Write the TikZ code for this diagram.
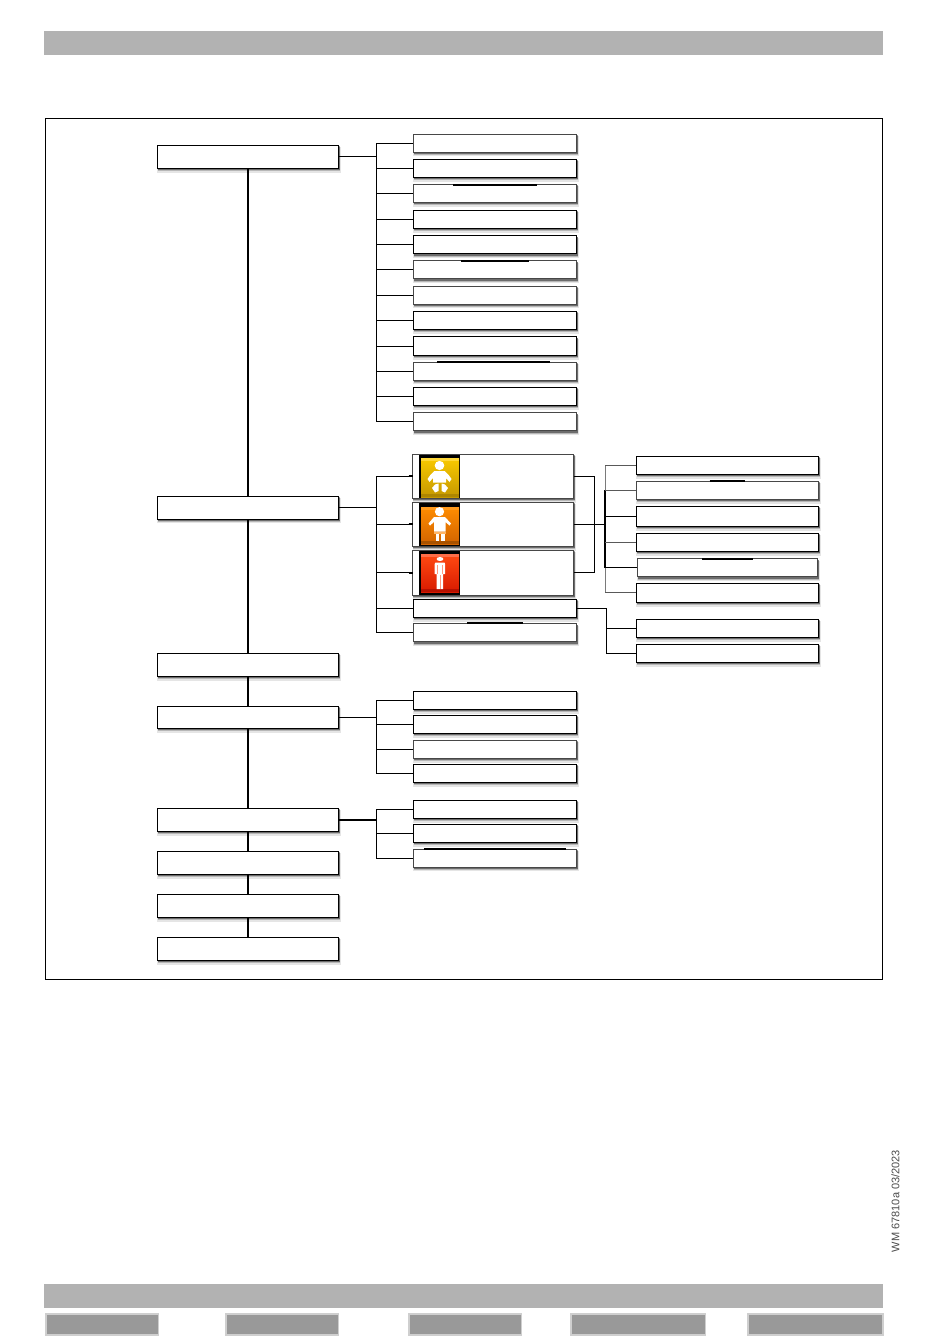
\documentclass[tikz,border=0pt]{standalone}
\usepackage{fontspec}
\setmainfont{Liberation Sans}
\definecolor{barg}{HTML}{B2B2B2}
\definecolor{btng}{HTML}{999999}
\definecolor{btne}{HTML}{CFCFCF}
\definecolor{yelT}{HTML}{F9C900}
\definecolor{yelB}{HTML}{C59800}
\definecolor{yelL}{HTML}{FFD83A}
\definecolor{yelD}{HTML}{AE8600}
\definecolor{orgT}{HTML}{FF8C00}
\definecolor{orgB}{HTML}{D26400}
\definecolor{orgL}{HTML}{FF9A1E}
\definecolor{orgD}{HTML}{A85200}
\definecolor{redT}{HTML}{FF4A12}
\definecolor{redB}{HTML}{D81A00}
\definecolor{redL}{HTML}{FF6E48}
\definecolor{redD}{HTML}{B51000}
\definecolor{orgS}{HTML}{FFB566}
\definecolor{redS}{HTML}{FF9A80}
\tikzset{
  box/.style={draw=black,line width=1pt,fill=white,inner sep=0pt,outer sep=0pt,anchor=north west},
  softbox/.style={box,draw=black!72},
  conn/.style={draw=black,line width=0.9pt},
  connsoft/.style={draw=black!52,line width=1pt},
  spine/.style={draw=black,line width=1.7pt},
  heavy/.style={draw=black,line width=1.8pt},
  topmark/.style={draw=black,line width=2pt},
  bar/.style={fill=barg},
  btn/.style={fill=btng,draw=btne,line width=1.6pt},
  figw/.style={fill=white,draw=none},
}
\newcommand{\bx}[6][box]{%
  \fill[black,opacity=.10] ({#3},{#4+2}) rectangle ({#5+2.4},{#6+4.2});
  \fill[black,opacity=.20] ({#3+.3},{#4+1.5}) rectangle ({#5+1.7},{#6+3});
  \fill[black,opacity=.40] ({#3+.5},{#4+1}) rectangle ({#5+1.2},{#6+1.8});
  \pgfmathsetmacro{\bw}{#5-#3}\pgfmathsetmacro{\bh}{#6-#4}
  \node[#1,minimum width=\bw pt,minimum height=\bh pt] (#2) at (#3,#4) {};
}
\newcommand{\icon}[8]{% y0 y1 yi0 yi1 top bottom lightband darkband
  \fill[black] (419,#1) rectangle (460,#2);
  \shade[top color=#5,bottom color=#6] (421,#3) rectangle (459,#4);
  \fill[#7] (421,#3) rectangle (459,{#3+3});
  \fill[#8] (421,{#4-3.5}) rectangle (459,#4);
}
\begin{document}
\begin{tikzpicture}[x=1pt,y=-1pt]
\useasboundingbox (0,0) rectangle (950,1344);
\fill[white] (0,0) rectangle (950,1344);
% bars
\fill[bar] (44,31) rectangle (883,55);
\fill[bar] (44,1284) rectangle (883,1308.3);
\draw[btn] (46,1313.7) rectangle (158.5,1335);
\draw[btn] (226,1313.7) rectangle (338.5,1335);
\draw[btn] (409,1313.7) rectangle (521.5,1335);
\draw[btn] (571,1313.7) rectangle (705.5,1335);
\draw[btn] (748,1313.7) rectangle (883,1335);
\draw[black,line width=.8pt] (45.5,118.5) rectangle (882.5,979.5);
\node[rotate=90,text=black!70,font=\fontsize{11}{13}\selectfont,inner sep=0pt] (code) at (895.5,1201) {WM 67810a 03/2023};
% left column
\bx{L1}{157.3}{145.3}{338.3}{168.3}
\bx{L2}{157.3}{496.3}{338.3}{519}
\bx{L3}{157.3}{653.3}{338.3}{676.3}
\bx{L4}{157.3}{706.3}{338.3}{728.3}
\bx{L5}{157.3}{808.3}{338.3}{831.3}
\bx{L6}{157.3}{851.3}{338.3}{874.3}
\bx{L7}{157.3}{894.3}{338.3}{917.3}
\bx{L8}{157.3}{937.3}{338.3}{960.3}
% middle column, group 1
\bx[softbox]{A1}{413.3}{134}{576.5}{152}
\bx{A2}{413.3}{159.3}{576.5}{177.3}
\bx[softbox]{A3}{413.3}{184.3}{576.5}{202.3}
\bx{A4}{413.3}{210.3}{576.5}{228.3}
\bx{A5}{413.3}{235.7}{576.5}{253.7}
\bx[softbox]{A6}{413.3}{260.7}{576.5}{278.7}
\bx[softbox]{A7}{413.3}{286}{576.5}{304}
\bx{A8}{413.3}{311.3}{576.5}{329.3}
\bx{A9}{413.3}{336.7}{576.5}{355.3}
\bx[softbox]{A10}{413.3}{362}{576.5}{380}
\bx{A11}{413.3}{387.3}{576.5}{405.3}
\bx[softbox]{A12}{413.3}{412.7}{576.5}{430.7}
% group 2
\bx[softbox]{B1}{412.7}{454.3}{573.7}{498.3}
\bx[softbox]{B2}{412.7}{502.3}{573.7}{546.3}
\bx[softbox]{B3}{412.7}{550.3}{573.7}{595}
\bx{B4}{413.3}{599}{576.5}{617.3}
\bx[softbox]{B5}{413.3}{623.7}{576.5}{641.7}
% group 3
\bx{C1}{413.3}{691.3}{576.5}{709.3}
\bx{C2}{413.3}{715.3}{576.5}{733.3}
\bx[softbox]{C3}{413.3}{740}{576.5}{758.3}
\bx{C4}{413.3}{764.3}{576.5}{782.3}
% group 4
\bx{D1}{413.3}{800.3}{576.5}{818.3}
\bx{D2}{413.3}{824.3}{576.5}{842.3}
\bx[softbox]{D3}{413.3}{849}{576.5}{867}
% right column
\bx{R1}{636.3}{456.3}{818.3}{474.3}
\bx[softbox]{R2}{636.3}{481.3}{818.3}{499.3}
\bx{R3}{636.3}{506.3}{818.3}{526.3}
\bx{R4}{636.3}{533.3}{818.3}{551.3}
\bx[softbox]{R5}{637.3}{558.7}{817.7}{576.7}
\bx{R6}{636.3}{583.3}{818.3}{602.3}
\bx{R7}{636.3}{619.3}{818.3}{637.3}
\bx{R8}{636.3}{644.3}{818.3}{662.3}
% top-edge marks
\draw[topmark] (453,184.6) -- (537,184.6);
\draw[topmark] (461,260.6) -- (529,260.6);
\draw[topmark] (437,361.6) -- (550,361.6);
\draw[topmark] (467,623.4) -- (523,623.4);
\draw[topmark] (709.5,480.6) -- (745,480.6);
\draw[topmark] (702,558.6) -- (753,558.6);
\draw[topmark] (424,848.6) -- (566,848.6);
% spine
\draw[spine] (L1.south) -- (L2.north);
\draw[spine] (L2.south) -- (L3.north);
\draw[spine] (L3.south) -- (L4.north);
\draw[spine] (L4.south) -- (L5.north);
\draw[spine] (L5.south) -- (L6.north);
\draw[spine] (L6.south) -- (L7.north);
\draw[spine] (L7.south) -- (L8.north);
% trunks
\coordinate (ta) at (376.4,157);
\coordinate (tb) at (376.4,507);
\coordinate (tc) at (376.4,717);
\coordinate (td) at (376.4,820);
\coordinate (tr) at (605,524);
\coordinate (ts) at (606.4,608);
\coordinate (br) at (594.5,524);
\draw[conn] (L1.east) -- (L1.east -| ta);
\draw[conn] (ta |- A1.west) -- (ta |- A12.west);
\foreach \n in {A1,A2,A3,A4,A5,A6,A7,A8,A9,A10,A11,A12}{\draw[conn] (ta |- \n.west) -- (\n.west);}
\draw[conn] (L2.east) -- (L2.east -| tb);
\draw[conn] (tb |- B1.west) -- (tb |- B5.west);
\foreach \n in {B1,B2,B3,B4,B5}{\draw[conn] (tb |- \n.west) -- (\n.west);}
\foreach \n in {B1,B2,B3}{\draw[heavy] ([xshift=-4pt]\n.west) -- (\n.west);}
\draw[conn] (L4.east) -- (L4.east -| tc);
\draw[conn] (tc |- C1.west) -- (tc |- C4.west);
\foreach \n in {C1,C2,C3,C4}{\draw[conn] (tc |- \n.west) -- (\n.west);}
\draw[heavy] (L5.east) -- (L5.east -| td);
\draw[conn] (td |- D1.west) -- (td |- D3.west);
\foreach \n in {D1,D2,D3}{\draw[conn] (td |- \n.west) -- (\n.west);}
% bracket
\draw[conn] (B1.east) -- (br |- B1.east) -- (br |- B3.east) -- (B3.east);
\draw[conn,line width=1.2pt] (B2.east) -- (tr |- B2.east);
\draw[connsoft] (tr |- R1.west) -- (tr |- R2.west);
\draw[connsoft] (tr |- R5.west) -- (tr |- R6.west);
\draw[conn,line width=1.1pt] (tr |- R2.west) -- (tr |- R5.west);
\foreach \n in {R1,R2,R4,R6}{\draw[connsoft,draw=black!65] (tr |- \n.west) -- (\n.west);}
\foreach \n in {R3,R5}{\draw[conn] (tr |- \n.west) -- (\n.west);}
\draw[conn] (B4.east) -- (ts |- B4.east) -- (ts |- R8.west) -- (R8.west);
\draw[conn] (ts |- R7.west) -- (R7.west);
% icons
\icon{454.5}{498}{458}{497}{yelT}{yelB}{yelL}{yelD}
\icon{503}{546}{507}{544}{orgT}{orgB}{orgL}{orgD}
\icon{551}{595}{554}{592}{redT}{redB}{redL}{redD}
% baby
\fill[figw] (439.5,465.5) ellipse (4.8 and 4.6);
\fill[figw] (434.5,471) -- (444.5,471) .. controls (447.5,473) and (449.5,476) .. (451.5,479) -- (449.5,482) -- (446,478) -- (446,482.5) -- (433,482.5) -- (433,478) -- (429.5,482) -- (427.5,479) .. controls (429.5,476) and (431.5,473) .. (434.5,471) -- cycle;
\fill[figw] (435,484.5) -- (438.5,483.5) -- (438.5,491) -- (435,492.5) -- (432,488) -- cycle;
\fill[figw] (445,484.5) -- (441.5,483.5) -- (441.5,491) -- (445,492.5) -- (448,488) -- cycle;
% child
\fill[figw] (439.5,511.7) ellipse (4.6 and 4.6);
\fill[figw] (434,517) -- (445,517) -- (451,523.5) -- (449.5,525.5) -- (445.5,522) -- (445.5,531.5) -- (434,531.5) -- (434,522) -- (430,525.5) -- (428.5,523.5) -- cycle;
\fill[figw] (435.5,533.5) rectangle (439,540.7);
\fill[figw] (440.5,533.5) rectangle (444.5,540.7);
\fill[orgS] (434,531.5) rectangle (445.5,533.5);
% adult
\fill[figw] (440,559) ellipse (3.4 and 2);
\fill[figw] (435.5,562.5) -- (444.5,562.5) -- (445,564) -- (445,574) -- (443,574) -- (443,589) -- (436.5,589) -- (436.5,574) -- (434.7,574) -- (434.7,564) -- cycle;
\fill[redS] (437,565) rectangle (438,574);
\fill[redS] (442,565) rectangle (443,574);
\fill[redS] (439.5,575) rectangle (440.5,589);
\end{tikzpicture}
\end{document}
